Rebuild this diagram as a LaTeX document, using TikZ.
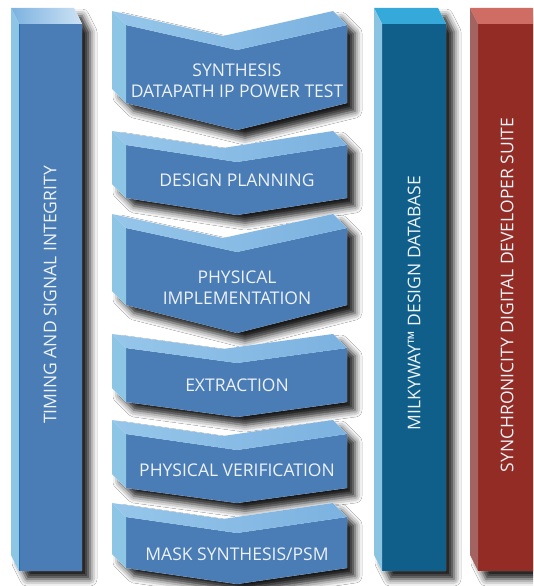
\documentclass[tikz,border=0pt]{standalone}
\usepackage{fontspec}
\setmainfont{Open Sans}
\usetikzlibrary{shadows.blur}
\definecolor{frontblue}{RGB}{74,124,181}
\definecolor{sideblue}{RGB}{141,197,228}
\definecolor{topL}{RGB}{150,198,234}
\definecolor{topM}{RGB}{205,226,244}
\definecolor{topR}{RGB}{124,178,224}
\definecolor{mwfront}{RGB}{16,95,139}
\definecolor{mwtop}{RGB}{53,169,217}
\definecolor{mwside}{RGB}{139,196,224}
\definecolor{rdfront}{RGB}{147,44,36}
\definecolor{rdtop}{RGB}{207,109,100}
\definecolor{rdside}{RGB}{163,99,97}
\definecolor{txt}{RGB}{236,242,248}
\definecolor{edge}{RGB}{40,110,170}
\tikzset{
  shad/.style={fill=white,blur shadow={shadow xshift=8pt,shadow yshift=-8pt,shadow blur radius=7pt,shadow opacity=90}},
  lbl/.style={text=txt,align=center,font=\fontsize{17.5}{21}\selectfont,inner sep=0pt},
  vlbl/.style={lbl,rotate=90},
}
% chevron: #1 top, #2 valley, #3 bottom, #4 tip
\newcommand{\chevron}[4]{%
  \path[shad] (112,#1-14) -- (223,#2-14) -- (333,#1-14) -- (347,#1) -- (347,#3) -- (237,#4) -- (126,#3) -- (112,#3-14) -- cycle;
  \fill[frontblue] (126,#1) -- (237,#2) -- (347,#1) -- (347,#3) -- (237,#4) -- (126,#3) -- cycle;
  \shade[left color=topL,middle color=topM,right color=topR] (112,#1-14) -- (223,#2-14) -- (333,#1-14) -- (347,#1) -- (237,#2) -- (126,#1) -- cycle;
  \fill[sideblue] (112,#1-14) -- (126,#1) -- (126,#3) -- (112,#3-14) -- cycle;
}
\newcommand{\pillar}[6]{% #1 left x, #2 right x, #3 front, #4 top, #5 side, #6 top right color
  \path[shad] (#1,8) -- (#2-8,8) -- (#2,24) -- (#2,571) -- (#1+8,571) -- (#1,555) -- cycle;
  \fill[#3] (#1+8,24) rectangle (#2,571);
  \shade[left color=#4,right color=#6] (#1,8) -- (#2-8,8) -- (#2,24) -- (#1+8,24) -- cycle;
  \fill[#5] (#1,8) -- (#1+8,24) -- (#1+8,571) -- (#1,555) -- cycle;
}
\begin{document}
\begin{tikzpicture}[x=1pt,y=-1pt]
\useasboundingbox (0,0) rectangle (533,586);
\fill[white] (0,0) rectangle (533,586);
\begin{scope}
\clip (0,0) rectangle (533,586);
\pillar{11}{82}{frontblue}{topR}{sideblue}{topM}
\draw[edge,line width=0.8pt] (19,24) -- (19,571);
\pillar{374}{446}{mwfront}{mwtop}{mwside}{mwtop}
\pillar{470}{542}{rdfront}{rdtop}{rdside}{rdtop}
\chevron{25}{50}{103}{130}
\chevron{145}{162}{198}{215}
\chevron{228}{252}{305}{333}
\chevron{348}{363}{402}{417}
\chevron{434}{450}{488}{503}
\chevron{517}{533}{568}{584}
\end{scope}
\node[lbl] (syn) at (237,81) {SYNTHESIS\\DATAPATH IP POWER TEST};
\node[lbl] (dp) at (237,180) {DESIGN PLANNING};
\node[lbl] (pi) at (237,288) {PHYSICAL\\IMPLEMENTATION};
\node[lbl] (ex) at (237,385) {EXTRACTION};
\node[lbl] (pv) at (237,470) {PHYSICAL VERIFICATION};
\node[lbl] (ms) at (237,554) {MASK SYNTHESIS/PSM};
\node[vlbl] (tsi) at (50,295) {TIMING AND SIGNAL INTEGRITY};
\node[vlbl] (mw) at (414,303) {MILKYWAY™ DESIGN DATABASE};
\node[vlbl] (sd) at (507,295) {SYNCHRONICITY DIGITAL DEVELOPER SUITE};
\end{tikzpicture}
\end{document}
